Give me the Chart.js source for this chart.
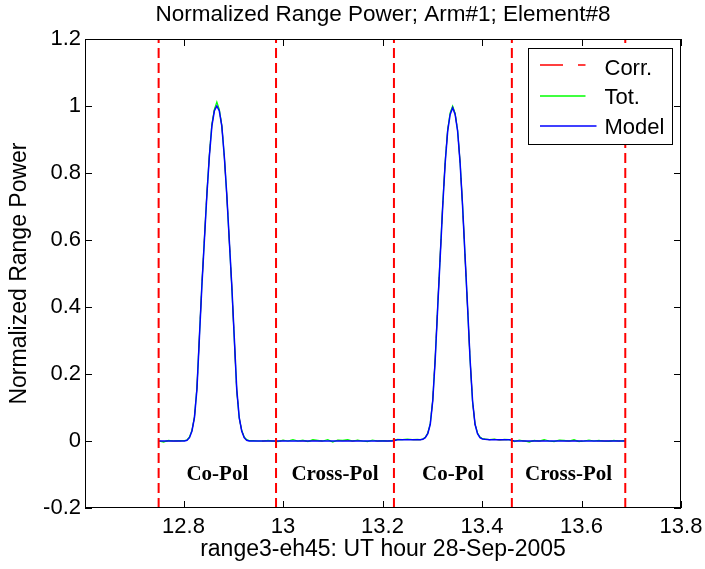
<!DOCTYPE html>
<html><head><meta charset="utf-8">
<script src="https://cdn.jsdelivr.net/npm/chart.js@4.4.1/dist/chart.umd.min.js"></script>
<style>html,body{margin:0;padding:0;background:#fff;} canvas{display:block;}</style>
</head><body>
<canvas id="c" width="705" height="569"></canvas>
<script>
// UT hour samples
const hours = [
  12.750, 12.760, 12.770, 12.780, 12.790,
  12.802, 12.807, 12.812, 12.817, 12.822, 12.827, 12.832, 12.837, 12.842, 12.847, 12.852, 12.857, 12.862, 12.867,
  12.872, 12.877, 12.882, 12.887, 12.892, 12.897, 12.902, 12.907, 12.912, 12.917, 12.922, 12.927, 12.932,
  12.94, 12.95, 12.96, 12.97, 12.98, 12.99, 13.00, 13.01, 13.02, 13.03, 13.04, 13.05, 13.06, 13.07, 13.08,
  13.09, 13.10, 13.11, 13.12, 13.13, 13.14, 13.15, 13.16, 13.17, 13.18, 13.19, 13.20, 13.21, 13.22,
  13.23, 13.24, 13.25, 13.26, 13.27,
  13.276, 13.281, 13.286, 13.291, 13.296, 13.301, 13.306, 13.311, 13.316, 13.321, 13.326, 13.331, 13.336, 13.341,
  13.346, 13.351, 13.356, 13.361, 13.366, 13.371, 13.376, 13.381, 13.386, 13.391, 13.396, 13.401, 13.406,
  13.415, 13.425, 13.435, 13.445, 13.455, 13.465, 13.475, 13.485, 13.495, 13.505, 13.515, 13.525, 13.535, 13.545,
  13.555, 13.565, 13.575, 13.585, 13.595, 13.605, 13.615, 13.625, 13.635, 13.645, 13.655, 13.665, 13.675, 13.685, 13.688
];
// Corr. series
const corr = [
  0, -0.002, 0.001, 0, 0,
  0.001, 0.002, 0.011, 0.031, 0.071, 0.158, 0.313, 0.468, 0.603, 0.738, 0.853, 0.943, 0.988, 1.006,
  0.988, 0.941, 0.85, 0.734, 0.599, 0.463, 0.307, 0.152, 0.069, 0.031, 0.011, 0.003, 0.001,
  0, 0, 0, 0.001, 0, -0.001, 0.002, 0, 0.002, 0, 0.001, -0.001, 0.002, 0.001, 0,
  0.002, -0.002, 0.002, 0.001, 0.002, 0, 0.002, 0, -0.001, 0.002, 0, 0.001, 0, 0.001,
  0.004, 0.004, 0.005, 0.004, 0.004,
  0.004, 0.005, 0.011, 0.023, 0.051, 0.122, 0.248, 0.403, 0.553, 0.703, 0.833, 0.928, 0.978, 0.998,
  0.977, 0.926, 0.831, 0.701, 0.549, 0.399, 0.244, 0.119, 0.05, 0.023, 0.011, 0.006, 0.005,
  0.004, 0.005, 0.003, 0.004, 0.004, -0.001, 0.002, 0, -0.002, 0.001, 0, 0.002, 0, -0.001,
  0.002, 0.001, 0, 0.002, -0.001, 0, 0.002, 0, 0.001, 0, 0, 0.001, 0, 0, 0
];
// Tot. series
const tot = [
  0, -0.003, 0.002, 0, 0.001,
  0.001, 0.003, 0.012, 0.032, 0.072, 0.16, 0.315, 0.47, 0.605, 0.74, 0.855, 0.945, 0.99, 1.012,
  0.99, 0.942, 0.85, 0.733, 0.598, 0.462, 0.305, 0.15, 0.068, 0.032, 0.012, 0.004, 0.001,
  0.001, 0, 0, 0.002, 0, -0.002, 0.003, 0, 0.004, 0, 0.003, -0.002, 0.004, 0.002, 0,
  0.004, -0.003, 0.003, 0.002, 0.004, 0, 0.003, 0, -0.002, 0.003, 0, 0.001, 0, 0.002,
  0.005, 0.004, 0.006, 0.004, 0.005,
  0.004, 0.006, 0.011, 0.024, 0.052, 0.123, 0.25, 0.405, 0.555, 0.705, 0.835, 0.93, 0.98, 1.0,
  0.978, 0.927, 0.832, 0.702, 0.548, 0.398, 0.243, 0.118, 0.05, 0.024, 0.012, 0.007, 0.006,
  0.004, 0.006, 0.003, 0.005, 0.004, -0.002, 0.003, 0, -0.003, 0.002, 0, 0.004, 0, -0.002,
  0.003, 0.002, 0, 0.004, -0.002, 0, 0.003, 0, 0.002, 0, -0.001, 0.002, 0, 0.001, 0
];
// Model series
const model = [
  0, 0, 0, 0, 0,
  0, 0.002, 0.01, 0.03, 0.07, 0.155, 0.31, 0.465, 0.6, 0.735, 0.85, 0.94, 0.985, 1,
  0.985, 0.94, 0.85, 0.735, 0.6, 0.465, 0.31, 0.155, 0.07, 0.03, 0.01, 0.002, 0,
  0, 0, 0, 0, 0, 0, 0, 0, 0, 0, 0, 0, 0, 0, 0,
  0, 0, 0, 0, 0, 0, 0, 0, 0, 0, 0, 0, 0, 0,
  0.004, 0.004, 0.004, 0.004, 0.004,
  0.004, 0.005, 0.01, 0.022, 0.05, 0.12, 0.245, 0.4, 0.55, 0.7, 0.83, 0.925, 0.975, 0.995,
  0.975, 0.925, 0.83, 0.7, 0.55, 0.4, 0.245, 0.12, 0.05, 0.022, 0.01, 0.006, 0.005,
  0.004, 0.004, 0.004, 0.004, 0.004, 0, 0, 0, 0, 0, 0, 0, 0, 0,
  0, 0, 0, 0, 0, 0, 0, 0, 0, 0, 0, 0, 0, 0, 0
];
const seriesNames = ['Corr.', 'Tot.', 'Model'];
const boundaries = [12.750, 12.986, 13.223, 13.460, 13.688];
const regionLabels = ['Co-Pol', 'Cross-Pol', 'Co-Pol', 'Cross-Pol'];
const xTicks = [12.8, 13, 13.2, 13.4, 13.6, 13.8];
const yTicks = [-0.2, 0, 0.2, 0.4, 0.6, 0.8, 1, 1.2];
const titleText = 'Normalized Range Power; Arm#1; Element#8';
const xTitle = 'range3-eh45: UT hour 28-Sep-2005';
const yTitle = 'Normalized Range Power';

const pts = arr => hours.map((h, i) => ({x: h, y: arr[i]}));
const SANS = '"Liberation Sans", Arial, sans-serif';

const decor = {
  id: 'decor',
  afterDatasetsDraw(chart) {
    const {ctx, chartArea: a, scales: {x, y}} = chart;
    ctx.save();
    // frame
    ctx.strokeStyle = '#000'; ctx.lineWidth = 1; ctx.setLineDash([]);
    ctx.strokeRect(Math.round(a.left) + 0.5, Math.round(a.top) + 0.5,
                   Math.round(a.right - a.left) - 1, Math.round(a.bottom - a.top) - 1);
    // inward ticks
    ctx.beginPath();
    xTicks.forEach(v => {
      const px = Math.round(x.getPixelForValue(v)) + 0.5;
      ctx.moveTo(px, a.bottom); ctx.lineTo(px, a.bottom - 7);
      ctx.moveTo(px, a.top); ctx.lineTo(px, a.top + 7);
    });
    yTicks.forEach(v => {
      const py = Math.round(y.getPixelForValue(v)) + 0.5;
      ctx.moveTo(a.left, py); ctx.lineTo(a.left + 7, py);
      ctx.moveTo(a.right, py); ctx.lineTo(a.right - 7, py);
    });
    ctx.stroke();
    // region labels
    ctx.font = 'bold 21px "Liberation Serif", "Times New Roman", serif';
    ctx.textAlign = 'center'; ctx.textBaseline = 'alphabetic'; ctx.fillStyle = '#000';
    regionLabels.forEach((t, i) => {
      const cx = (x.getPixelForValue(boundaries[i]) + x.getPixelForValue(boundaries[i + 1])) / 2;
      ctx.fillText(t, cx, y.getPixelForValue(-0.1245) - 2.5);
    });
    // legend
    const lx = a.right - 152.5, ly = a.top + 9.5, lw = 144, lh = 96;
    ctx.fillStyle = '#fff'; ctx.fillRect(lx, ly, lw, lh);
    ctx.strokeStyle = '#000'; ctx.lineWidth = 1; ctx.strokeRect(lx, ly, lw, lh);
    const lineY = [16.5, 47.5, 77.5], textY = [19.5, 48.5, 78.5], lineEnd = [57, 57, 68];
    ctx.font = '22px ' + SANS; ctx.textAlign = 'left'; ctx.textBaseline = 'middle';
    for (let i = 0; i < 3; i++) {
      const ds = chart.data.datasets[i];
      ctx.beginPath();
      ctx.strokeStyle = ds.borderColor; ctx.lineWidth = Math.max(ds.borderWidth, 1.3);
      ctx.setLineDash(ds.borderDash || []);
      ctx.moveTo(lx + 11.5, ly + lineY[i]); ctx.lineTo(lx + lineEnd[i], ly + lineY[i]);
      ctx.stroke();
      ctx.setLineDash([]);
      ctx.fillStyle = '#000';
      ctx.fillText(seriesNames[i], lx + 76, ly + textY[i] + 1);
    }
    ctx.restore();
  },
  afterDraw(chart) {
    const {ctx, chartArea: a} = chart;
    ctx.save();
    ctx.fillStyle = '#000';
    ctx.textAlign = 'center'; ctx.textBaseline = 'middle';
    const cx = (a.left + a.right) / 2;
    ctx.font = '22.5px ' + SANS;
    ctx.fillText(titleText, cx, 15);
    ctx.font = '23px ' + SANS;
    ctx.fillText(xTitle, cx, 550);
    ctx.translate(20, (a.top + a.bottom) / 2);
    ctx.rotate(-Math.PI / 2);
    ctx.fillText(yTitle, 0, 0);
    ctx.restore();
  }
};

const lineDs = (label, arr, color, width, order, dash) => ({
  label, data: pts(arr), borderColor: color, backgroundColor: color, borderWidth: width,
  borderDash: dash || [], pointRadius: 0, tension: 0, fill: false, order
});

new Chart(document.getElementById('c'), {
  type: 'line',
  data: {
    datasets: [
      lineDs(seriesNames[0], corr, '#ff0000', 1, 3, [23, 15]),
      lineDs(seriesNames[1], tot, '#00ff00', 1.2, 2),
      lineDs(seriesNames[2], model, '#0000ff', 1.5, 1),
      ...boundaries.map(b => ({
        label: '', data: [{x: b, y: -0.2}, {x: b, y: 1.2}], borderColor: '#ff0000',
        borderWidth: 2, borderDash: [10, 5], pointRadius: 0, order: 0
      }))
    ]
  },
  options: {
    responsive: false, animation: false, devicePixelRatio: 1,
    layout: {padding: {top: 39, right: 24, left: 0, bottom: 0}},
    plugins: {legend: {display: false}, title: {display: false}, tooltip: {enabled: false}},
    scales: {
      x: {
        type: 'linear', min: 12.602, max: 13.8,
        afterBuildTicks: s => { s.ticks = xTicks.map(v => ({value: v})); },
        afterFit: s => { s.height = 61; s.paddingLeft = 0; s.paddingRight = 0; },
        grid: {display: false, drawTicks: false}, border: {display: false},
        ticks: {color: '#000', font: {family: SANS, size: 22}, padding: 6, maxRotation: 0,
                autoSkip: false, callback: v => String(Math.round(v * 10) / 10)}
      },
      y: {
        type: 'linear', min: -0.2, max: 1.2,
        afterBuildTicks: s => { s.ticks = yTicks.map(v => ({value: v})); },
        afterFit: s => { s.width = 85; s.paddingTop = 0; s.paddingBottom = 0; },
        grid: {display: false, drawTicks: false}, border: {display: false},
        ticks: {color: '#000', font: {family: SANS, size: 22}, padding: 4,
                autoSkip: false, callback: v => String(Math.round(v * 10) / 10)}
      }
    }
  },
  plugins: [decor]
});
</script>
</body></html>
